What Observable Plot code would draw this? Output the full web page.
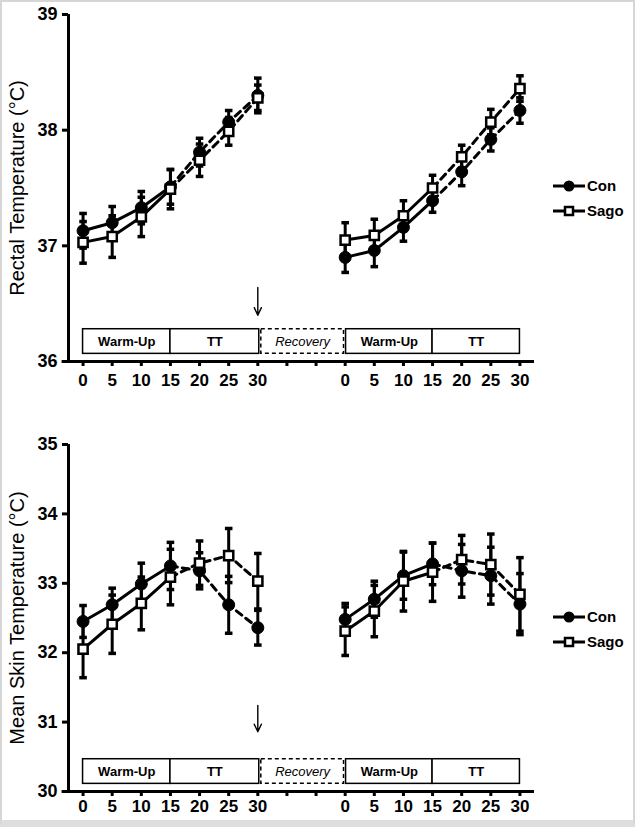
<!DOCTYPE html>
<html>
<head>
<meta charset="utf-8">
<script src="https://cdn.jsdelivr.net/npm/d3@7"></script>
<script src="https://cdn.jsdelivr.net/npm/@observablehq/plot@0.6"></script>
<style>
  html, body { margin: 0; padding: 0; background: #fff; }
  #wrap { position: relative; width: 635px; height: 827px; overflow: hidden; background: #fff;
          font-family: "Liberation Sans", Arial, sans-serif; }
  .panel { position: absolute; left: 0; }
  .frame { position: absolute; inset: 0; box-sizing: border-box; border: 2px solid #d6d6d6;
           border-bottom: 7px solid #dedede; pointer-events: none; }
  .leg { position: absolute; left: 553px; display: flex; align-items: center; font-weight: bold;
         font-size: 15px; color: #000; height: 20px; line-height: 20px; }
  .leg svg { display: block; margin-right: 2px; }
</style>
</head>
<body>
<div id="wrap"></div>
<script>
// ---------- data ----------
const minutes = [0, 5, 10, 15, 20, 25, 30];
const tickLabels = ["0", "5", "10", "15", "20", "25", "30", "", "", "0", "5", "10", "15", "20", "25", "30"];
const seriesNames = ["Con", "Sago"];
const phaseLabels = ["Warm-Up", "TT", "Recovery", "Warm-Up", "TT"];
const phaseStart = [0, 3, 6.12, 9.03, 12];
const phaseEnd = [3, 6.05, 8.96, 12, 15];
const trialStart = [0, 9];

// Rectal temperature (°C): [trial 1, trial 2]
const rectalCon = [[37.13, 37.20, 37.33, 37.51, 37.81, 38.07, 38.30], [36.90, 36.96, 37.16, 37.39, 37.64, 37.92, 38.17]];
const rectalConSE = [[0.15, 0.14, 0.14, 0.15, 0.12, 0.10, 0.15], [0.13, 0.14, 0.12, 0.10, 0.12, 0.10, 0.11]];
const rectalSago = [[37.03, 37.08, 37.25, 37.49, 37.74, 37.99, 38.28], [37.05, 37.09, 37.26, 37.50, 37.77, 38.07, 38.36]];
const rectalSagoSE = [[0.18, 0.18, 0.17, 0.17, 0.14, 0.12, 0.11], [0.15, 0.14, 0.13, 0.11, 0.10, 0.11, 0.11]];

// Mean skin temperature (°C)
const skinCon = [[32.45, 32.69, 32.99, 33.25, 33.18, 32.69, 32.36], [32.48, 32.77, 33.11, 33.28, 33.18, 33.11, 32.70]];
const skinConSE = [[0.23, 0.24, 0.30, 0.34, 0.26, 0.41, 0.25], [0.23, 0.26, 0.34, 0.30, 0.38, 0.41, 0.44]];
const skinSago = [[32.05, 32.41, 32.71, 33.09, 33.29, 33.40, 33.03], [32.31, 32.60, 33.03, 33.16, 33.34, 33.27, 32.84]];
const skinSagoSE = [[0.41, 0.42, 0.38, 0.40, 0.32, 0.39, 0.40], [0.35, 0.37, 0.43, 0.42, 0.35, 0.44, 0.53]];

const rectalTicks = [36, 37, 38, 39];
const skinTicks = [30, 31, 32, 33, 34, 35];

// ---------- helpers ----------
const FONT = '"Liberation Sans", Arial, sans-serif';

function toRows(vals, ses, series) {
  const out = [];
  vals.forEach((tv, t) => tv.forEach((v, k) => out.push({
    series, trial: t, k, x: trialStart[t] + minutes[k] / 5, y: v, se: ses[t][k]
  })));
  return out;
}

const phases = phaseLabels.map((label, i) => ({label, start: phaseStart[i], end: phaseEnd[i], dashed: label === "Recovery"}));

function panel(cfg) {
  const [ymin, ymax] = cfg.domain;
  const span = ymax - ymin;
  const boxLo = ymin + 0.022 * span, boxHi = ymin + 0.093 * span;
  const con = toRows(cfg.con, cfg.conSE, "Con");
  const sago = toRows(cfg.sago, cfg.sagoSE, "Sago");
  const all = [...con, ...sago];
  const capW = 0.13;
  return Plot.plot({
    width: 635, height: cfg.height,
    marginLeft: 68, marginRight: 101, marginTop: cfg.mt, marginBottom: cfg.mb,
    style: {fontFamily: FONT, background: "transparent", color: "#000", overflow: "visible"},
    x: {domain: [-0.5, 15.5], axis: null},
    y: {domain: [ymin, ymax], axis: null},
    marks: [
      // phase boxes
      Plot.rect(phases.filter(d => !d.dashed), {x1: "start", x2: "end", y1: () => boxLo, y2: () => boxHi,
        fill: "white", stroke: "black", strokeWidth: 1.5}),
      Plot.rect(phases.filter(d => d.dashed), {x1: "start", x2: "end", y1: () => boxLo, y2: () => boxHi,
        fill: "white", stroke: "black", strokeWidth: 1.5, strokeDasharray: "4,3"}),
      Plot.text(phases.filter(d => !d.dashed), {x: d => (d.start + d.end) / 2, y: () => (boxLo + boxHi) / 2,
        text: "label", fontSize: 13, fontWeight: "bold", fill: "black"}),
      Plot.text(phases.filter(d => d.dashed), {x: d => (d.start + d.end) / 2, y: () => (boxLo + boxHi) / 2,
        text: "label", fontSize: 13, fontStyle: "italic", fill: "black"}),
      // arrow marking recovery
      Plot.arrow([6], {x1: d => d, x2: d => d, y1: () => cfg.arrow[0], y2: () => cfg.arrow[1],
        stroke: "black", strokeWidth: 1.4, headLength: 9, headAngle: 50}),
      // axes
      Plot.ruleX([-0.5], {y1: () => ymin, y2: () => ymax, strokeWidth: 3}),
      Plot.ruleY([ymin], {x1: () => -0.72, x2: () => 15.5, strokeWidth: 3}),
      Plot.axisY({ticks: cfg.ticks, tickSize: 6, tickPadding: 5, fontSize: 18, fontWeight: "bold",
        strokeWidth: 3, label: null, tickFormat: d => String(d)}),
      Plot.axisX({ticks: d3.range(16), tickFormat: i => tickLabels[i], tickSize: 5, tickPadding: cfg.xpad,
        fontSize: 17, fontWeight: "bold", strokeWidth: 3, label: null}),
      Plot.text([cfg.title], {frameAnchor: "left", rotate: -90, dx: -51, text: d => d, fontSize: 20,
        fill: "black", textAnchor: "middle", lineAnchor: "middle"}),
      // lines
      Plot.line(all.filter(d => d.k <= 3), {x: "x", y: "y", z: d => d.series + d.trial, stroke: "black", strokeWidth: 3}),
      Plot.line(all.filter(d => d.k >= 3), {x: "x", y: "y", z: d => d.series + d.trial, stroke: "black",
        strokeWidth: 3, strokeDasharray: "7,5"}),
      // error bars
      Plot.ruleX(all, {x: "x", y1: d => d.y - d.se, y2: d => d.y + d.se, stroke: "black", strokeWidth: 3}),
      Plot.link(all, {x1: d => d.x - capW, x2: d => d.x + capW, y1: d => d.y + d.se, y2: d => d.y + d.se,
        stroke: "black", strokeWidth: 3.5}),
      Plot.link(all, {x1: d => d.x - capW, x2: d => d.x + capW, y1: d => d.y - d.se, y2: d => d.y - d.se,
        stroke: "black", strokeWidth: 3.5}),
      // markers
      Plot.dot(con, {x: "x", y: "y", r: 6, fill: "black", stroke: "black", strokeWidth: 1}),
      Plot.dot(sago, {x: "x", y: "y", symbol: "square", r: 5.2, fill: "white", stroke: "black", strokeWidth: 2.5})
    ]
  });
}

const wrap = document.getElementById("wrap");

function addPanel(el, top) {
  el.classList.add("panel");
  el.style.top = top + "px";
  wrap.appendChild(el);
}

addPanel(panel({
  height: 410, mt: 14, mb: 49, domain: [36, 39], ticks: rectalTicks, xpad: 7,
  con: rectalCon, conSE: rectalConSE, sago: rectalSago, sagoSE: rectalSagoSE,
  title: "Rectal Temperature (°C)", arrow: [36.64, 36.40]
}), 0);

addPanel(panel({
  height: 417, mt: 34, mb: 36, domain: [30, 35], ticks: skinTicks, xpad: 3,
  con: skinCon, conSE: skinConSE, sago: skinSago, sagoSE: skinSagoSE,
  title: "Mean Skin Temperature (°C)", arrow: [31.24, 30.86]
}), 410);

// legends
function legend(top) {
  seriesNames.forEach((name, i) => {
    const d = document.createElement("div");
    d.className = "leg";
    d.style.top = (top + i * 25 - 10) + "px";
    const icon = name === "Con"
      ? '<circle cx="16" cy="7" r="5.5" fill="black"/>'
      : '<rect x="12" y="3" width="8" height="8" fill="white" stroke="black" stroke-width="2.5"/>';
    d.innerHTML = '<svg width="32" height="14"><line x1="0" y1="7" x2="32" y2="7" stroke="black" stroke-width="3"/>' + icon + '</svg>' + name;
    wrap.appendChild(d);
  });
}
legend(186);
legend(617);

const fr = document.createElement("div");
fr.className = "frame";
wrap.appendChild(fr);
</script>
</body>
</html>
